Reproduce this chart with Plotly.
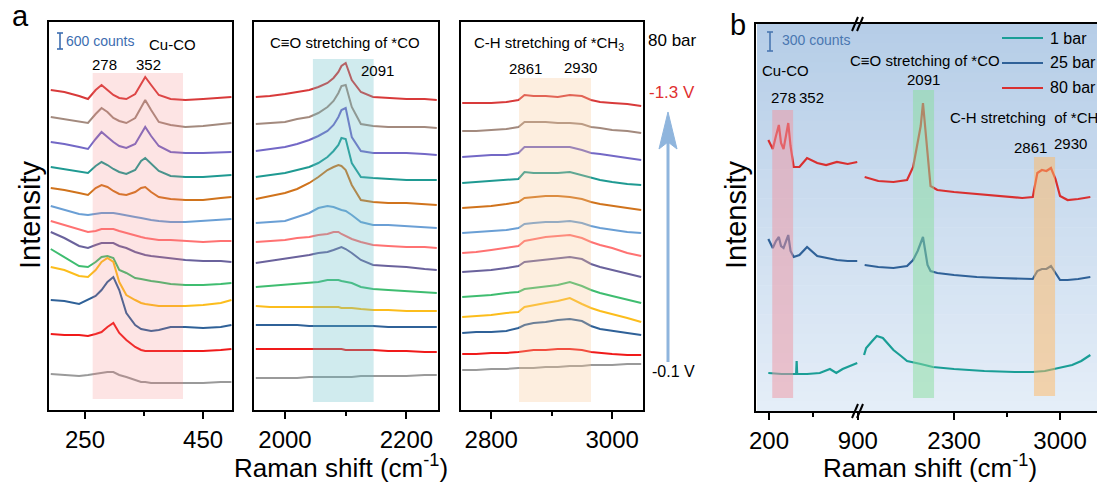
import plotly.graph_objects as go

# ======================= DATA =======================
potentials = ["-1.3 V", "-1.2 V", "-1.1 V", "-1.0 V", "-0.9 V", "-0.8 V", "-0.7 V",
              "-0.6 V", "-0.5 V", "-0.4 V", "-0.3 V", "-0.2 V", "-0.1 V"]
pot_colors = ["#d83a3a", "#a38a7e", "#7368c6", "#1f9a92", "#d0731c", "#6a9fd5", "#ff7272",
              "#6a629c", "#3fbd70", "#fcbd1c", "#2f6198", "#f01a1a", "#9a9a9a"]

# Panel a – Cu-CO region (wavenumber, cm-1)
wn_cuco = [192, 215, 240, 255, 268, 278, 288, 298, 308, 320, 335, 345, 352, 362, 375, 395, 420, 450, 480, 498]
cuco_m13 = [320, 318, 314, 311, 320, 325, 320, 315, 312, 311, 316, 326, 333, 325, 315, 311, 310, 311, 312, 313]
cuco_m12 = [293, 291, 289, 287, 296, 302, 298, 292, 289, 287, 292, 302, 310, 300, 288, 285, 283, 284, 286, 287]
cuco_m11 = [268, 266, 263, 261, 271, 278, 273, 268, 264, 262, 266, 276, 283, 274, 264, 258, 257, 257, 258, 258]
cuco_m10 = [243, 241, 239, 237, 244, 248, 245, 241, 238, 236, 240, 249, 252, 246, 239, 234, 233, 233, 234, 235]
cuco_m09 = [222, 220, 217, 215, 222, 225, 223, 219, 216, 215, 218, 222, 223, 218, 213, 211, 210, 210, 212, 213]
cuco_m08 = [204, 200, 196, 195, 196, 197, 197, 197, 196, 195, 193, 192, 191, 190, 189, 188, 188, 189, 190, 191]
cuco_m07 = [189, 185, 180, 178, 179, 181, 181, 181, 179, 177, 174, 173, 172, 171, 170, 170, 169, 168, 169, 169]
cuco_m06 = [178, 172, 164, 162, 165, 167, 167, 167, 164, 162, 158, 156, 155, 154, 153, 152, 150, 149, 149, 148]
cuco_m05 = [161, 153, 144, 143, 148, 153, 154, 152, 140, 137, 132, 131, 130, 129, 128, 126, 125, 125, 126, 127]
cuco_m04 = [143, 140, 134, 133, 140, 148, 152, 148, 128, 115, 110, 107, 106, 105, 104, 104, 104, 105, 107, 110]
cuco_m03 = [110, 109, 106, 110, 114, 120, 128, 133, 120, 97, 85, 81, 80, 79, 80, 83, 83, 82, 83, 85]
cuco_m02 = [76, 75, 75, 74, 76, 78, 83, 87, 77, 70, 63, 60, 59, 59, 59, 59, 59, 59, 60, 61]
cuco_m01 = [36, 35, 34, 35, 36, 37, 38, 38, 35, 33, 30, 28, 28, 27, 27, 27, 27, 27, 28, 28]

# Panel a – C≡O stretching region
wn_co = [1952, 1975, 2000, 2020, 2040, 2055, 2070, 2080, 2088, 2093, 2100, 2110, 2125, 2145, 2170, 2200, 2230, 2250]
co_m13 = [313, 314, 316, 318, 320, 323, 327, 332, 338, 344, 347, 330, 318, 313, 312, 311, 311, 310]
co_m12 = [286, 287, 288, 291, 293, 297, 303, 309, 317, 324, 325, 303, 286, 284, 283, 283, 283, 282]
co_m11 = [259, 261, 263, 266, 270, 274, 279, 285, 293, 300, 302, 273, 259, 257, 257, 257, 256, 255]
co_m10 = [233, 235, 237, 240, 243, 247, 253, 259, 265, 272, 271, 247, 233, 232, 231, 230, 230, 230]
co_m09 = [211, 214, 217, 221, 227, 233, 240, 243, 245, 244, 240, 225, 210, 208, 207, 207, 206, 205]
co_m08 = [187, 188, 189, 193, 197, 202, 204, 203, 201, 200, 199, 195, 188, 185, 185, 184, 183, 182]
co_m07 = [168, 169, 170, 172, 173, 175, 176, 178, 178, 176, 174, 171, 168, 165, 164, 163, 163, 162]
co_m06 = [147, 149, 151, 153, 155, 157, 158, 160, 162, 163, 161, 157, 150, 145, 144, 143, 141, 140]
co_m05 = [123, 124, 125, 126, 127, 128, 130, 130, 130, 129, 128, 127, 123, 121, 120, 119, 118, 117]
co_m04 = [104, 103, 103, 103, 103, 103, 103, 103, 103, 102, 102, 102, 101, 100, 100, 99, 99, 99]
co_m03 = [85, 85, 85, 85, 84, 84, 84, 84, 84, 84, 84, 84, 84, 84, 83, 83, 83, 83]
co_m02 = [61, 61, 61, 61, 61, 61, 61, 61, 61, 61, 60, 60, 60, 60, 59, 59, 58, 58]
co_m01 = [32, 32, 32, 32, 33, 33, 33, 33, 33, 33, 33, 33, 34, 34, 34, 34, 35, 35]

# Panel a – C-H stretching region
wn_ch = [2752, 2775, 2800, 2825, 2845, 2855, 2870, 2890, 2910, 2930, 2950, 2965, 2980, 3000, 3025, 3048]
ch_m13 = [307, 307, 307, 308, 310, 315, 314, 314, 313, 315, 314, 310, 308, 307, 306, 304]
ch_m12 = [279, 279, 280, 281, 283, 288, 288, 288, 287, 287, 286, 283, 282, 280, 279, 277]
ch_m11 = [253, 254, 255, 255, 257, 263, 263, 263, 263, 263, 260, 257, 256, 254, 252, 250]
ch_m10 = [227, 228, 229, 230, 231, 238, 237, 237, 237, 238, 235, 232, 230, 228, 226, 225]
ch_m09 = [202, 203, 204, 206, 208, 212, 213, 214, 214, 213, 211, 208, 206, 204, 202, 200]
ch_m08 = [177, 178, 179, 180, 182, 186, 187, 188, 188, 189, 187, 184, 182, 180, 178, 177]
ch_m07 = [157, 158, 160, 162, 164, 169, 171, 173, 174, 175, 172, 168, 165, 162, 157, 154]
ch_m06 = [138, 139, 140, 142, 144, 148, 149, 150, 152, 153, 151, 146, 143, 140, 136, 133]
ch_m05 = [113, 114, 115, 117, 118, 121, 122, 123, 125, 128, 124, 120, 117, 114, 110, 107]
ch_m04 = [93, 94, 95, 97, 98, 103, 105, 107, 109, 112, 106, 102, 99, 96, 92, 88]
ch_m03 = [77, 78, 78, 79, 82, 85, 87, 88, 90, 91, 89, 84, 81, 79, 77, 75]
ch_m02 = [56, 56, 57, 57, 58, 59, 60, 60, 61, 61, 60, 58, 57, 56, 55, 55]
ch_m01 = [40, 40, 41, 41, 42, 42, 42, 43, 43, 44, 44, 45, 45, 45, 46, 46]

# Panel b – pressure series (broken x axis: low and high wavenumber segments)
pressures = ["1 bar", "25 bar", "80 bar"]
press_colors = ["#1a9e96", "#2f6198", "#d93030"]

wn_b_low = [195, 230, 255, 278, 295, 315, 335, 352, 370, 395, 440, 500, 580, 650, 735, 820, 895]
b80_low = [271, 262, 275, 286, 268, 262, 276, 288, 265, 244, 244, 253, 248, 246, 249, 247, 249]
b25_low = [172, 163, 170, 174, 165, 163, 170, 176, 160, 154, 156, 164, 155, 153, 151, 150, 150]
wn_b1_low = [195, 300, 400, 414, 418, 422, 500, 600, 680, 730, 780, 820, 860, 895]
b1_low = [38, 37, 37, 37, 50, 37, 37, 38, 42, 38, 42, 44, 46, 48]

wn_b_high = [1710, 1800, 1900, 1990, 2030, 2060, 2080, 2095, 2110, 2125, 2145, 2190, 2300,
             2450, 2600, 2750, 2820, 2850, 2880, 2910, 2940, 2970, 3000, 3050, 3120, 3200]
b80_high = [234, 230, 229, 231, 244, 268, 285, 308, 280, 258, 225, 221, 219,
            217, 215, 213, 214, 238, 241, 240, 243, 232, 215, 211, 212, 214]
b25_high = [146, 144, 143, 145, 151, 160, 168, 174, 160, 146, 140, 138, 136,
            134, 133, 132, 132, 140, 142, 142, 145, 138, 131, 131, 132, 134]
wn_b1_high = [1706, 1720, 1760, 1790, 1830, 1860, 1900, 1950, 1990, 2080, 2160, 2300,
              2500, 2700, 2820, 2900, 3000, 3080, 3140, 3200]
b1_high = [56, 63, 70, 75, 73, 68, 61, 55, 50, 47, 44, 42, 40, 39, 39, 40, 43, 46, 50, 56]

# tick labels
ticks_a1 = [250, 450]
ticks_a2 = [2000, 2200]
ticks_a3 = [2800, 3000]
ticks_b_low = [200, 900]
ticks_b_high = [2300, 3000]

# ======================= FIGURE =======================
W, H = 1097, 488
FONT = "Arial, Liberation Sans, sans-serif"


def fx(p):
    return p / W


def fy(p):
    return 1 - p / H


cuco_all = [cuco_m13, cuco_m12, cuco_m11, cuco_m10, cuco_m09, cuco_m08, cuco_m07,
            cuco_m06, cuco_m05, cuco_m04, cuco_m03, cuco_m02, cuco_m01]
co_all = [co_m13, co_m12, co_m11, co_m10, co_m09, co_m08, co_m07,
          co_m06, co_m05, co_m04, co_m03, co_m02, co_m01]
ch_all = [ch_m13, ch_m12, ch_m11, ch_m10, ch_m09, ch_m08, ch_m07,
          ch_m06, ch_m05, ch_m04, ch_m03, ch_m02, ch_m01]

fig = go.Figure()
for k in range(len(potentials)):
    for wn, vals, xa, ya in [(wn_cuco, cuco_all[k], "x", "y"),
                             (wn_co, co_all[k], "x2", "y2"),
                             (wn_ch, ch_all[k], "x3", "y3")]:
        fig.add_trace(go.Scatter(x=wn, y=vals, xaxis=xa, yaxis=ya, mode="lines",
                                 name=potentials[k], showlegend=False,
                                 line=dict(color=pot_colors[k], width=2)))

b_low = [(wn_b1_low, b1_low), (wn_b_low, b25_low), (wn_b_low, b80_low)]
b_high = [(wn_b1_high, b1_high), (wn_b_high, b25_high), (wn_b_high, b80_high)]
for i, name in enumerate(pressures):
    fig.add_trace(go.Scatter(x=b_low[i][0], y=b_low[i][1], xaxis="x4", yaxis="y4", mode="lines",
                             name=name, showlegend=False, line=dict(color=press_colors[i], width=2.2)))
    fig.add_trace(go.Scatter(x=b_high[i][0], y=b_high[i][1], xaxis="x5", yaxis="y4", mode="lines",
                             name=name, showlegend=False, line=dict(color=press_colors[i], width=2.2)))


def xax(dom, rng, tv, minor, anchor):
    return dict(domain=[fx(dom[0]), fx(dom[1])], range=rng, anchor=anchor, automargin=False,
                showline=True, linewidth=2, linecolor="black", mirror=True,
                ticks="outside", ticklen=7, tickwidth=2, tickcolor="black",
                tickvals=tv, tickfont=dict(size=24, family=FONT, color="black"),
                minor=dict(tickvals=minor, ticks="outside", ticklen=4, tickwidth=2, tickcolor="black"),
                showgrid=False, zeroline=False)


def yax(dom, rng, anchor, mirror=True):
    return dict(domain=[fy(dom[1]), fy(dom[0])], range=rng, anchor=anchor, automargin=False,
                showline=True, linewidth=2, linecolor="black", mirror=mirror,
                ticks="", showticklabels=False, showgrid=False, zeroline=False)


layout = dict(
    width=W, height=H, margin=dict(l=0, r=0, t=0, b=0, pad=0, autoexpand=False),
    paper_bgcolor="white", plot_bgcolor="rgba(0,0,0,0)",
    font=dict(family=FONT, color="black"),
    showlegend=False,
    xaxis=xax((49, 232), [189, 499], ticks_a1, [350], "y"),
    yaxis=yax((22, 410), [0, 388], "x"),
    xaxis2=xax((254, 438), [1949, 2252], ticks_a2, [2100], "y2"),
    yaxis2=yax((22, 410), [0, 388], "x2"),
    xaxis3=xax((461, 643), [2750, 3051], ticks_a3, [2900], "y3"),
    yaxis3=yax((22, 410), [0, 388], "x3"),
    xaxis4=xax((756, 858), [98, 901], ticks_b_low, [550], "y4"),
    yaxis4=yax((24, 411), [0, 387], "x4", mirror=False),
    xaxis5=xax((858, 1097), [1666, 3244], ticks_b_high, [2650], "y4"),
)
fig.update_layout(**layout)

shapes = []
# gradient background for panel b
top_rgb, bot_rgb = (181, 205, 231), (229, 238, 248)
N = 40
for i in range(N):
    t = (i + 0.5) / N
    c = tuple(round(top_rgb[j] + (bot_rgb[j] - top_rgb[j]) * t) for j in range(3))
    y0 = 24 + i * 387 / N
    y1 = 24 + (i + 1) * 387 / N + 0.6
    shapes.append(dict(type="rect", xref="paper", yref="paper", x0=fx(757), x1=1.0,
                       y0=fy(min(y1, 411)), y1=fy(y0), fillcolor="rgb(%d,%d,%d)" % c,
                       line=dict(width=0), layer="below"))

# highlighted bands
for xr, yr, xa, ya, col, op in [
    ((263, 416), (11, 337), "x", "y", "rgb(245,120,120)", 0.2),
    ((2046, 2146), (8, 351), "x2", "y2", "rgb(100,190,200)", 0.3),
    ((2846, 2965), (8, 332), "x3", "y3", "rgb(250,200,150)", 0.3),
    ((226, 390), (13, 301), "x4", "y4", "rgb(240,150,162)", 0.5),
    ((2029, 2168), (13, 321), "x5", "y4", "rgb(136,222,158)", 0.5),
    ((2828, 2967), (15, 254), "x5", "y4", "rgb(255,184,98)", 0.5),
]:
    shapes.append(dict(type="rect", xref=xa, yref=ya, x0=xr[0], x1=xr[1], y0=yr[0], y1=yr[1],
                       fillcolor=col, opacity=op, line=dict(width=0), layer="above"))


def pline(x0, y0, x1, y1, color, width):
    return dict(type="line", xref="paper", yref="paper", x0=fx(x0), y0=fy(y0), x1=fx(x1), y1=fy(y1),
                line=dict(color=color, width=width), layer="above")


# scale bars
for xb, ya_, yb, col in [(60, 33, 49, "#3c6db0"), (770, 32, 51, "#4a77b0")]:
    shapes.append(pline(xb, ya_, xb, yb, col, 1.6))
    shapes.append(pline(xb - 3, ya_, xb + 3, ya_, col, 1.6))
    shapes.append(pline(xb - 3, yb, xb + 3, yb, col, 1.6))

# potential arrow
arrow_col = "#8fb5dd"
shapes.append(pline(668, 362, 668, 138, arrow_col, 3))
path = "M %f,%f L %f,%f L %f,%f L %f,%f Z" % (fx(659), fy(149), fx(668), fy(112), fx(677), fy(149), fx(668), fy(142))
shapes.append(dict(type="path", xref="paper", yref="paper", path=path, fillcolor=arrow_col,
                   line=dict(color=arrow_col, width=1)))

# axis break marks
for yb in (24, 411):
    shapes.append(pline(852, yb + 7, 858, yb - 7, "black", 2))
    shapes.append(pline(857, yb + 7, 863, yb - 7, "black", 2))

# legend lines (panel b)
for i, yl in enumerate((38, 63, 88)):
    shapes.append(pline(1002, yl, 1043, yl, press_colors[i], 2))

fig.update_layout(shapes=shapes)


def txt(s, x, y, size=15, color="black", xanchor="center", angle=0):
    return dict(text=s, x=fx(x), y=fy(y), xref="paper", yref="paper", showarrow=False,
                font=dict(size=size, color=color, family=FONT), xanchor=xanchor,
                yanchor="middle", textangle=angle)


ann = [
    txt("a", 20, 16, 29),
    txt("600 counts", 64, 41, 14, "#3c6db0", "left"),
    txt("Cu-CO", 172, 45, 15),
    txt("278", 104, 64, 15), txt("352", 148, 64, 15),
    txt("C\u2261O stretching of *CO", 345, 42, 15),
    txt("2091", 377, 70, 15),
    txt("C-H stretching of *CH<sub>3</sub>", 549, 43, 15),
    txt("2861", 525, 68, 15), txt("2930", 580, 67, 15),
    txt("80 bar", 672, 41, 17),
    txt("-1.3 V", 672, 93, 17, "#e03030"),
    txt("-0.1 V", 673, 371, 16),
    txt("Intensity", 30, 215, 29, angle=-90),
    txt("Raman shift (cm<sup>-1</sup>)", 341, 466, 26),
    txt("b", 738, 25, 29),
    txt("300 counts", 780, 40, 14, "#4a77b0", "left"),
    txt("Cu-CO", 785, 70, 15),
    txt("278", 783, 98, 15), txt("352", 811, 98, 15),
    txt("C\u2261O stretching of *CO", 925, 60, 15),
    txt("2091", 923, 80, 15),
    txt("C-H stretching&nbsp; of *CH<sub>3</sub>", 948, 119, 15, xanchor="left"),
    txt("2861", 1030, 147, 15), txt("2930", 1070, 143, 15),
    txt("1 bar", 1048, 38, 16, xanchor="left"),
    txt("25 bar", 1048, 63, 16, xanchor="left"),
    txt("80 bar", 1048, 88, 16, xanchor="left"),
    txt("Intensity", 736, 215, 29, angle=-90),
    txt("Raman shift (cm<sup>-1</sup>)", 930, 466, 26),
]
fig.update_layout(annotations=ann)

fig.write_html("out.html", config={"displayModeBar": False},
               post_script="document.body.style.margin='0';document.body.style.padding='0';")
